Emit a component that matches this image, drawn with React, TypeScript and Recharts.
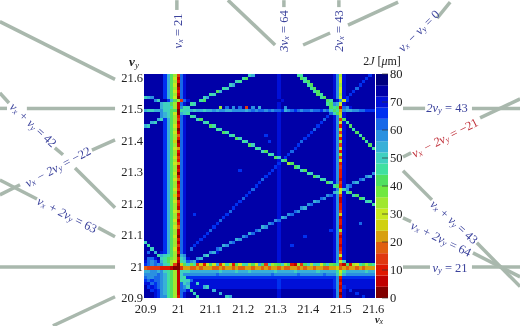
import { Bar, BarChart, ReferenceLine, Scatter, ScatterChart, XAxis, YAxis } from "recharts";

// 2J in 4 um bands, one char per cell (0 = 0-4 um ... j = 76-80 um).
// Top row is vy = 21.6, left column vx = 20.9. Spaces only group columns by ten.
const gridRows = [
  "iiiiiigda8 3fhiiiiiii iiiiiiiiii iicdiiiiii ihiiiiibbi iiiiiiiihe 8hiiiiiiig i",
  "iiiiiigda7 1fhiiiiiii iiiiiiiiii baiiiiiiii ihiiiiiiab iiiiiiiihe 7hiiiiiigi i",
  "iiiiiigda8 2fhiiiiiii iiiiiiiicb iiiiiiiiii ihiiiiiiib aiiiiiiihe 7hiiiiigii i",
  "iiiiiigda7 0fhiiiiiii iiiiiicdii iiiiiiiiii ihiiiiiiii baiiiiiihe 8hiiiigiii i",
  "iiiiiigda8 1fhiiiiiii iiiibciiii iiiiiiiiii ihiiiiiiii ibaiiiiihe 7hiiifiiii i",
  "iiiiiigda7 2fhiiiiiii iiadiiiiii iiiiiiiiii ihiiiiiiii iibaiiiihe 7hiigiiiii i",
  "iiiiiigda8 1fhiiiiiii bciiiiiiii iiiiiiiiii ihiiiiiiii iiiabiiihe 8higiiiiii i",
  "cdeiiigda7 0fhiiiiicd iiiiiiiiii iiiiiiiiii ihiiiiiiii iiiibaiihe 7hgiiiiiii i",
  "iiieciigda8 3fhiiibaii iiiiiiiiii iiiiiiiiii ihiiiiiiii iiiiiabihe 7giiiiiiii i",
  "iiiiidcca8 1fhibciiii iiiiiiiiii iiiiiiiiii ihiiiiiiii iiiiiibaed 7hiiiiiiii i",
  "iiiiidccb8 1ebciiiiii iii8ifieif i3ieidiiii ihieiiiiii iiiiiiiaba 1fehiiiiii i",
  "dccddeccaa 0bccdcddcd dedeeddeee edefeffefe ffgdefgfef feffgefcab 5eddeeffgg g",
  "iiiiiedca7 0dcbiiiiii iiiiiiiiii iiiiiiiiii ihiiiiiiii iiiiiiifca 6hiiiiiiii i",
  "iiiiiedca8 2fhibciiii iiiiiiiiii iiiiiiiiii ihiiiiiiii iiiiiigihe 8hiiiiiiii i",
  "iiiidcgda8 3fhiiicaii iiiiiiiiii iiiiiiiiii ihiiiiiiii iiiiifiihe 3aiiiiiiii i",
  "iidciigda8 1fhiiiiicb iiiiiiiiii iiiiiiiiii ihiiiiiiii iiiigiiihe 7hbiiiiiii i",
  "dciiiigda7 2fhiiiiiii abiiiiiiii iiiiiiiiii ihiiiiiiii iiigiiiihe 2hiaiiiiii i",
  "iiiiiigda8 0fhiiiiiii iibciiiiii iiiiiiiiii ihiiiiiiii iifiiiiihe 7hiibiiiii i",
  "iiiiiigda7 1fhiiiiiii iiiiabiiii iiiiiiiiii ihiiiiiiii igiiiiiihe 3hiiiaiiii i",
  "iiiiiigda8 4fhiiiiiii iiiiiicbii iiiiiiigii ihiiiiiiii giiiiiiihe 6hiiiibiii i",
  "iiiiiigda8 2fhiiiiiii iiiiiiiiac iiiiiiiiii ihiiiiiiig iiiiiiiihe 2hiiiiiaii i",
  "iiiiiigda6 0fhiiiiiii iiiiiiiiii bciiiiiigi ihiiiiiifi iiiiiiiihe 8hiiiiiibi i",
  "iiiiiigda8 1fhiiiiiii iiiiiiiiii iiaciiiiii ihiiiiigii iiiiiiiihe 3hiiiiiiia i",
  "iiiiiigda7 5fhiiiiiii iiiiiiiiii iiiibciiii ihiiiigiii iiiiiiiihe 7hiiiiiiii b",
  "iiiiiigda8 2fhiiiiiii iiiiiiiiii iiiiiicaii ihiiifiiii iiiiiiiihe 2hiiiiiiii i",
  "iiiiiigda8 1fhiiiiiii iiiiiiiiii iiiiiiiibc ihiigiiiii iiiiiiiihe 8hiiiiiiii i",
  "iiiiiigda7 3fhiiiiiii iiiiiiiiii iiiiiiiiii acigiiiiii iiiiiiiihe 3hiiiiiiii i",
  "iiiiiigda8 2fhiiiiiii iiiiiiiiii iiiiiiiiii ihbaiiiiii iiiiiiiihe 7hiiiiiiii i",
  "iiiiiigda7 5fhiiiiiii iiiiiiiiii iiiiiiiiii igii8aiiii iiiiiiiihe 2hiiiiiiii i",
  "iiiiiigda8 1fhiiiiiii iiiiiiiiii iiiiiiiiii ghiiiiabii iiiiiiiihe 3hiiiiiiii i",
  "iiiiiigda8 2fhiiiiiii iiiiiiiiig iiiiiiiiig ihiiiiiica iiiiiiiihe 2hiiiiiiii i",
  "iiiiiigda7 0fhiiiiiii iiiiiiiiii iiiiiiiigi ihiiiiiiii bciiiiiihe 2hiiiiiiii e",
  "iiiiiigda8 2fhiiiiiii iiiiiiiiii iiiiiiigii ihiiiiiiii iiaciiiihe 2hiiiiiied i",
  "iiiiiigda7 4fhiiiiiii iiiiiiiiii iiiiiifiii ihiiiiiiii iiiibciihe 1hiiiifeii i",
  "iiiiiigda8 1fhiiiiiii iiiiiiiiii iiiiigiiii ihiiiiiiii iiiiiiache 3hiiediiii i",
  "iiiiiigda8 2fhiiiiiii iiiiiiiiii iiiigiiiii ihiiiiiiii iiiiiiiiba 2hefiiiiii i",
  "iiiiiigda7 3fhiiiiiii iiiiiiiiii iiifiiiiii ihiiiiiiii iiiiiiiihe 7ceiiiiiii i",
  "iiiiiigda8 1fhiiiiiii iiiiiiiiii iigiiiiiii ihiiiiiiii iiiiiiiidc 7hbaiiiiii i",
  "iiiiiigda6 2fhiiiiiii iiiiiiiiii igiiiiiiii ihiiiiiiii iiiiiiefhe 3hiicaiiii i",
  "iiiiiigda8 0fhiiiiiii iiiiiiiiii fiiiiiiiii ihiiiiiiii iiiifeiihe 1hiiiiabii i",
  "iiiiiigda7 3fhiiiiiii iiiiiiiiig iiiiiiiiii ihiiiiiiii iideiiiihe 1hiiiiiicb i",
  "iiiiiigda8 2fhiiiiiii iiiiiiiigi iiiiiiiiii ihiiiiiiii efiiiiiihe 2hiiiiiiii b",
  "iiiiiigda8 1fhiiiiiii iiiiiiigii iiiiiiiiii ihiiiiiied iiiiiiiihe 2hiiiiiiii i",
  "iiiiiigda7 5fhiiiiiii iiiiiifiii iiiiiiiiii ihiiiifeii iiiiiiiihe 3hiiiiiiii i",
  "iiiiiigda8 2fhiigiiii iiiiigiiii iiiiiiiiii ihiiefiiii iiiiiiiihe 6hiiiiiiii i",
  "iiiiiigda8 3fhiiiiiii iiiigiiiii iiiiiiiiii ihdeiiiiii iiiiiiiihe 1hiiiiiiii i",
  "iiiiiigda7 1fhiiiiiii iiifiiiiii iiiiiiiiii efiiiiiiii iiiiiiiihe 2hiiiiiiii i",
  "iiiiiigda8 2fhiiiiiii iigiiiiiii iiiiiiiief ihiiiiiiii iiiiiiiihe 2hiiiifiii i",
  "iiiiiigda7 4fhiiiiiii igiiiiiiii iiiiiideii ihiiiiiiii iiiiiiiihe 1hiiiiiiii i",
  "iiiiiigda8 1fhiiiiiii fiiiiiiiii iiiifeiiii ihiiiiiiii iiiiiiighe 8hiiiiiiii i",
  "iiiiiigda8 1fhiiiiiig iiiiiiiiii iidfiiiiii ihiiiiiiii iiiiiiiihe 3hiiiiiiii i",
  "iiiiiigda7 0fhiiiiigi iiiiiiiiii efiiiiiiii ihiiiiiiig iiiiiiiihe 1hiiiiiiii i",
  "iiiiiigda8 2fhiiiigii iiiiiiiide iiiiiiiiii ihiiiiiiii iiiiiiiihe 2hiiiiiiii i",
  "ciiiiigda8 1fhiiigiii iiiiiiefii iiiiiiiiii ihiiiiiiii iiiiiiiihe 2hiiiiiiii i",
  "ibiiiigda8 3fhiigiiii iiiideiiii iiiiiiiiii ihiiigiiii iiiiiiiihe 1hiiiiiiii i",
  "iiciiigda7 1fhifiiiii iifeiiiiii iiiiiiiiii ihiiiiiiii iiiiiiiihe 2hiiiiiiii i",
  "ifidihgda8 2fhiiiiiii edhiiiiiii iiiiiiiiii ihiiiiiiii iiiiiiiihe 3hiiiiiiii i",
  "iiiibdcba8 0deiiiiidc iiiiiiiiii iiiiiiiiii ihiiiiiiii iiiiiiiihe 7hiiiiiiii i",
  "iffhicba98 2cdhiiedii iiiiiiiiii iiiiiiiiii ihiiiiiiii iiiiiiiihe 2hiiiiiiii i",
  "hfefhdba87 1bcfedhiii iiiiiiiiii iiiiiiiiii ihiiiiiiii iiiiiiiihd 7ciiiiiiii i",
  "gfefeecb83 06ac9b3627 a7d37b82a7 bc8a7da3c8 9ac8a2183a c8cb7ac9ab 31a287ba8a b",
  "4333322210 0355445455 5445455454 4554554545 5454455454 5545544556 4545545455 5",
  "ddeedecba8 1cccdddddd dddcddddcd ddcddddddd cdddddcddd dddcdddddb 7bddddddcd d",
  "eeeefedba8 1ceeeeeeee eefeeeeeee eeeeeeeeef eeeeeeefee eeeeefeeec 8deeeeeeee e",
  "feeffedba8 1cbggggggg gggggggggg gggggggggg gggggggggg ggggggggge 2ggggggggg g",
  "gfgffedba8 1bccfhhhhh hhhhhhhhhh hhhhhhhhhh hghhhhhhhh hhhhhhhhge 1hhhhhhhhh h",
  "hhfgfedba8 1fcdhhchhh hhhhhhhhhh hhhhhhhhhh hghhhhhhhh hhhhhhhhge 2hhhhhhhhh h",
  "ighgfedba8 1fechhhhdc hhhhhhhhhh hhhhhhhhhh hghhhhhhhh hhhhhhhhge 1ghhhhhhhh h",
  "iighgedba8 1ffhbiiiii idiiiiiiii iiiiiiiiii ihiiiiiiii iiiiiiiihe 2higiiiiii i",
  "iiihgedba8 1fhiiciiii iiidiiiiii iiiiiiiiii ihiiiiiiii iiiiiiiihe 0hiiigiiii i",
  "iiihgeeba8 2fhiiibiii iiiiicdiii iiiiiiiiii ihiiiiiiii iiiiiiiihe 1hiiiiigii i",
];

const bandColors = [
  "#800000", "#c00000", "#e01800", "#e03810", "#e06010",
  "#d8a010", "#d0d010", "#c8e820", "#a0e830", "#70e840",
  "#50e060", "#40e0a0", "#40d0c0", "#38b0d8", "#2a90e0",
  "#1868e8", "#0030f0", "#0010d8", "#0000a8", "#00007f",
];

const xTicks = [20.9, 21, 21.1, 21.2, 21.3, 21.4, 21.5, 21.6];
const yTicks = [20.9, 21, 21.1, 21.2, 21.3, 21.4, 21.5, 21.6];
const barTicks = [0, 10, 20, 30, 40, 50, 60, 70, 80];

// resonance guide lines running off the plot, [vx1, vy1, vx2, vy2]
const guideSegments = [
  [20.452, 21.776, 20.806, 21.593],
  [20.996, 21.844, 20.996, 21.813],
  [21.153, 21.844, 21.298, 21.702],
  [20.452, 21.501, 20.474, 21.501],
  [20.535, 21.501, 20.806, 21.501],
  [20.452, 21.55, 20.48, 21.518],
  [20.621, 21.376, 20.646, 21.354],
  [20.683, 21.312, 20.806, 21.186],
  [20.806, 21.401, 20.735, 21.369],
  [20.452, 21.227, 20.514, 21.259],
  [20.452, 21.274, 20.566, 21.214],
  [20.754, 21.123, 20.806, 21.094],
  [20.452, 20.998, 20.806, 20.998],
  [20.615, 20.812, 20.806, 20.904],
  [21.325, 21.844, 21.325, 21.822],
  [21.494, 21.844, 21.494, 21.822],
  [21.384, 21.702, 21.467, 21.74],
  [21.522, 21.765, 21.676, 21.838],
  [21.796, 21.787, 21.836, 21.838],
  [21.691, 21.501, 21.759, 21.501],
  [21.903, 21.501, 22.051, 21.501],
  [21.691, 21.347, 21.716, 21.36],
  [21.928, 21.471, 22.051, 21.531],
  [21.691, 21.303, 21.78, 21.211],
  [21.918, 21.075, 22.051, 20.936],
  [21.691, 21.154, 21.716, 21.142],
  [21.906, 21.043, 22.051, 20.967],
  [21.691, 20.998, 21.774, 20.998],
  [21.903, 20.998, 22.051, 20.998],
];

// [text, subscript, ...] runs, with centre and angle of each hand-placed label
type Label = { parts: string[]; x: number; y: number; angle: number; color?: string };
const labels: Label[] = [
  { parts: ["ν", "x", " = 21"], x: 178, y: 31, angle: -90 },
  { parts: ["3ν", "x", " = 64"], x: 284, y: 31, angle: -90 },
  { parts: ["2ν", "x", " = 43"], x: 339, y: 31, angle: -90 },
  { parts: ["ν", "x", " − ν", "y", " = 0"], x: 419, y: 31, angle: -45 },
  { parts: ["ν", "x", " + ν", "y", " = 42"], x: 33, y: 125, angle: 43 },
  { parts: ["ν", "x", " − 2ν", "y", " = −22"], x: 58, y: 167, angle: -28 },
  { parts: ["ν", "x", " + 2ν", "y", " = 63"], x: 67, y: 215, angle: 27 },
  { parts: ["2ν", "y", " = 43"], x: 447, y: 108, angle: 0 },
  { parts: ["ν", "x", " − 2ν", "y", " = −21"], x: 445, y: 138, angle: -27, color: "#c0303a" },
  { parts: ["ν", "x", " + ν", "y", " = 43"], x: 454, y: 222, angle: 42 },
  { parts: ["ν", "x", " + 2ν", "y", " = 64"], x: 441, y: 239, angle: 26 },
  { parts: ["ν", "y", " = 21"], x: 450, y: 268, angle: 0 },
];

const FONT = '"Liberation Serif", serif';

const cells = gridRows.flatMap((row, j) =>
  row
    .replace(/ /g, "")
    .split("")
    .map((ch, i) => ({
      vx: 20.9 + i * 0.01,
      vy: 21.605 - j * 0.01,
      value: parseInt(ch, 36) * 4 + 2,
    })),
);

const bandRow: Record<string, any> = { name: "2J" };
bandColors.forEach((_, k) => {
  bandRow[`b${k}`] = 4;
});

function HeatCell(props: any) {
  const band = Math.floor(props.payload.value / 4);
  return (
    <rect
      x={props.cx - 1.65}
      y={props.cy - 1.6}
      width={3.5}
      height={3.4}
      fill={bandColors[band]}
      shapeRendering="crispEdges"
    />
  );
}

function BarTick(props: any) {
  const { x, y, payload } = props;
  return (
    <g>
      <line x1={x - 6} x2={x} y1={y} y2={y} stroke="#333" strokeWidth={0.7} />
      <text x={x + 2} y={y + 4} fontSize={12.5} fontFamily={FONT} fill="#222">
        {payload.value}
      </text>
    </g>
  );
}

function ResonanceLabel({ parts, x, y, angle, color = "#3b429c" }: Label) {
  return (
    <text
      transform={`translate(${x} ${y}) rotate(${angle})`}
      textAnchor="middle"
      dominantBaseline="central"
      fontFamily={FONT}
      fontSize={12.5}
      fill={color}
    >
      {parts.map((part, k) =>
        part === "x" || part === "y" ? (
          <tspan key={k} fontSize={8.5} fontStyle="italic" dy={2}>
            {part}
          </tspan>
        ) : (
          <tspan key={k} dy={k > 0 ? -2 : 0} fontStyle={part.includes("ν") ? "italic" : undefined}>
            {part}
          </tspan>
        ),
      )}
    </text>
  );
}

export default function App() {
  return (
    <div
      style={{
        position: "absolute",
        left: 0,
        top: 0,
        width: 520,
        height: 326,
        background: "#fff",
        overflow: "hidden",
        filter: "blur(0.4px)", // the source figure is a soft scan
      }}
    >
      <div style={{ position: "absolute", left: 0, top: 0 }}>
        <ScatterChart width={520} height={326} margin={{ top: 74, right: 145, bottom: 0, left: 104 }}>
          <XAxis
            type="number"
            dataKey="vx"
            domain={[20.895, 21.605]}
            ticks={xTicks}
            allowDataOverflow
            height={28}
            axisLine={false}
            tickLine={false}
            tickSize={0}
            tickMargin={6}
            interval={0}
            tick={{ fontSize: 12.5, fontFamily: FONT, fill: "#222" }}
          />
          <YAxis
            type="number"
            dataKey="vy"
            domain={[20.9, 21.61]}
            ticks={yTicks}
            allowDataOverflow
            width={40}
            axisLine={false}
            tickLine={false}
            tickSize={0}
            tickMargin={1}
            interval={0}
            tick={{ fontSize: 12.5, fontFamily: FONT, fill: "#222" }}
          />
          <Scatter data={cells} shape={HeatCell} isAnimationActive={false} />
          {guideSegments.map((s, k) => (
            <ReferenceLine
              key={k}
              segment={[
                { x: s[0], y: s[1] },
                { x: s[2], y: s[3] },
              ]}
              ifOverflow="visible"
              stroke="#a9b8ad"
              strokeWidth={3.5}
            />
          ))}
        </ScatterChart>
      </div>
      <div style={{ position: "absolute", left: 376, top: 0 }}>
        <BarChart
          width={42}
          height={326}
          data={[bandRow]}
          barCategoryGap={0}
          margin={{ top: 74, right: 0, bottom: 28, left: 0 }}
        >
          <XAxis hide dataKey="name" height={0} />
          <YAxis
            orientation="right"
            type="number"
            domain={[0, 80]}
            ticks={barTicks}
            width={30}
            axisLine={false}
            tickLine={false}
            tickSize={0}
            tickMargin={0}
            interval={0}
            tick={BarTick}
          />
          {bandColors.map((color, k) => (
            <Bar key={k} dataKey={`b${k}`} stackId="bar" fill={color} isAnimationActive={false} />
          ))}
        </BarChart>
      </div>
      <svg width={520} height={326} style={{ position: "absolute", left: 0, top: 0, pointerEvents: "none" }}>
        {labels.map((label, k) => (
          <ResonanceLabel key={k} {...label} />
        ))}
        <text x={134} y={66} fontFamily={FONT} fontSize={13} fontWeight="bold" fontStyle="italic" fill="#222" textAnchor="middle">
          ν<tspan fontSize={9} dy={2} fontWeight="normal">y</tspan>
        </text>
        <text x={379} y={323} fontFamily={FONT} fontSize={10.5} fontWeight="bold" fontStyle="italic" fill="#222" textAnchor="middle">
          ν<tspan fontSize={8} dy={0.5} fontWeight="normal">x</tspan>
        </text>
        <text x={382} y={65} fontFamily={FONT} fontSize={12} fill="#222" textAnchor="middle">
          2<tspan fontStyle="italic">J</tspan> [<tspan fontStyle="italic">μ</tspan>m]
        </text>
      </svg>
    </div>
  );
}
